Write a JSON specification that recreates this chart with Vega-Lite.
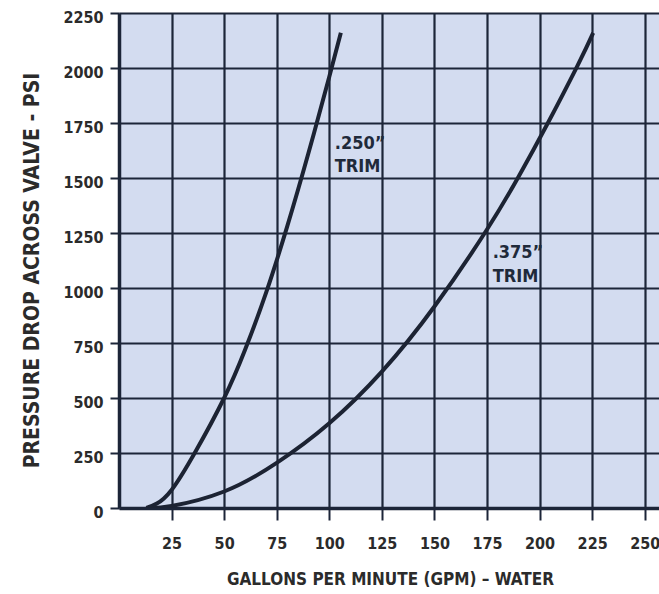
{
  "$schema": "https://vega.github.io/schema/vega-lite/v6.json",
  "width": 540,
  "height": 495,
  "autosize": {"type": "none"},
  "padding": {"left": 119, "top": 13, "right": 0, "bottom": 86},
  "background": "white",
  "config": {
    "view": {"fill": "#d3dcf0", "stroke": null},
    "font": "Liberation Sans Narrow, DejaVu Sans Condensed, sans-serif"
  },
  "datasets": {
    "curves": [
      {"trim": "250", "gpm": 13, "psi": 0},
      {"trim": "250", "gpm": 18, "psi": 20},
      {"trim": "250", "gpm": 25, "psi": 82},
      {"trim": "250", "gpm": 36, "psi": 250},
      {"trim": "250", "gpm": 50, "psi": 500},
      {"trim": "250", "gpm": 60, "psi": 720},
      {"trim": "250", "gpm": 70, "psi": 980},
      {"trim": "250", "gpm": 80, "psi": 1280},
      {"trim": "250", "gpm": 90, "psi": 1610},
      {"trim": "250", "gpm": 100, "psi": 1960},
      {"trim": "250", "gpm": 105.5, "psi": 2160},
      {"trim": "375", "gpm": 14, "psi": 0},
      {"trim": "375", "gpm": 25, "psi": 9},
      {"trim": "375", "gpm": 50, "psi": 75},
      {"trim": "375", "gpm": 75, "psi": 205},
      {"trim": "375", "gpm": 100, "psi": 385},
      {"trim": "375", "gpm": 125, "psi": 620},
      {"trim": "375", "gpm": 150, "psi": 916},
      {"trim": "375", "gpm": 175, "psi": 1266},
      {"trim": "375", "gpm": 190, "psi": 1506},
      {"trim": "375", "gpm": 203, "psi": 1733},
      {"trim": "375", "gpm": 218, "psi": 2010},
      {"trim": "375", "gpm": 225.5, "psi": 2160}
    ],
    "labels": [
      {"gpm": 102.6, "psi": 1656, "label": ".250\u201d"},
      {"gpm": 102.6, "psi": 1551, "label": "TRIM"},
      {"gpm": 177.7, "psi": 1158, "label": ".375\u201d"},
      {"gpm": 177.7, "psi": 1049, "label": "TRIM"}
    ]
  },
  "layer": [
    {
      "data": {"name": "curves"},
      "mark": {"type": "line", "interpolate": "natural", "strokeWidth": 4, "color": "#1c2333", "clip": true},
      "encoding": {
        "x": {
          "field": "gpm", "type": "quantitative",
          "scale": {"domain": [0, 256.8], "nice": false},
          "axis": {
            "values": [25, 50, 75, 100, 125, 150, 175, 200, 225, 250],
            "format": "d",
            "grid": true, "gridColor": "#1c2538", "gridWidth": 2.2, "gridOpacity": 1,
            "domainColor": "#1c2538", "domainWidth": 3.5,
            "tickColor": "#1c2538", "tickSize": 12, "tickWidth": 2,
            "labelFontSize": 16, "labelFontWeight": "bold", "labelColor": "#2b2b2b",
            "labelPadding": 15, "labelFlush": false,
            "title": "GALLONS PER MINUTE (GPM) \u2013 WATER",
            "titleFontSize": 17, "titleFontWeight": "bold", "titleColor": "#2b2b2b",
            "titleX": 271, "titleY": 71, "titleBaseline": "middle", "titleAlign": "center"
          }
        },
        "y": {
          "field": "psi", "type": "quantitative",
          "scale": {"domain": [0, 2250], "nice": false},
          "axis": {
            "values": [0, 250, 500, 750, 1000, 1250, 1500, 1750, 2000, 2250],
            "format": "d",
            "grid": true, "gridColor": "#1c2538", "gridWidth": 2.2, "gridOpacity": 1,
            "domainColor": "#1c2538", "domainWidth": 3.5,
            "tickColor": "#1c2538", "tickSize": 9, "tickWidth": 2,
            "labelFontSize": 16, "labelFontWeight": "bold", "labelColor": "#2b2b2b",
            "labelPadding": 7, "labelOffset": 4, "labelFlush": false,
            "title": "PRESSURE DROP ACROSS VALVE - PSI",
            "titleFontSize": 21, "titleFontWeight": "bold", "titleColor": "#2b2b2b",
            "titleX": -87, "titleY": 257, "titleBaseline": "middle", "titleAlign": "center", "titleAngle": -90
          }
        },
        "detail": {"field": "trim"}
      }
    },
    {
      "data": {"name": "labels"},
      "mark": {"type": "text", "align": "left", "baseline": "middle", "fontSize": 18, "fontWeight": "bold", "color": "#1f2a3a"},
      "encoding": {
        "x": {"field": "gpm", "type": "quantitative"},
        "y": {"field": "psi", "type": "quantitative"},
        "text": {"field": "label"}
      }
    }
  ]
}
